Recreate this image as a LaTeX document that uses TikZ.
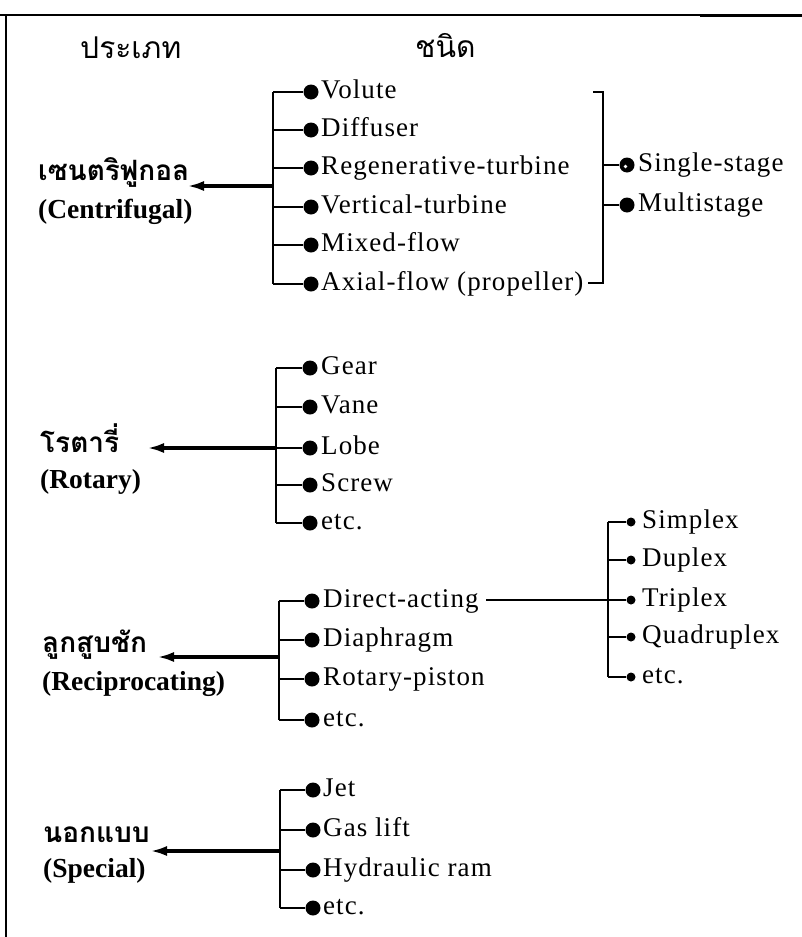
\documentclass[tikz,border=0pt]{standalone}
\usepackage{fontspec}
\setmainfont{Liberation Serif}
\newfontfamily\thaifont[Script=Thai]{Loma}
\newfontfamily\itemfont[LetterSpace=4]{Liberation Serif}
\usetikzlibrary{arrows.meta}
\tikzset{
  dot/.style={circle, fill=black, inner sep=0pt, minimum size=15pt},
  sdot/.style={circle, fill=black, inner sep=0pt, minimum size=9pt},
  item/.style={anchor=base west, inner sep=0pt, font={\itemfont\fontsize{27}{32}\selectfont}},
  thlab/.style={anchor=base west, inner sep=0pt, font={\thaifont\bfseries\fontsize{28}{32}\selectfont}},
  enlab/.style={anchor=base west, inner sep=0pt, font={\bfseries\fontsize{27.5}{32}\selectfont}},
  head/.style={anchor=base west, inner sep=0pt, font={\thaifont\fontsize{30}{34}\selectfont}},
  bus/.style={line width=2.6pt},
  branch/.style={line width=1.8pt},
  thin/.style={line width=1.6pt},
  arr/.style={line width=3.5pt, -{Latex[length=17pt,width=10pt]}},
}
\begin{document}
\begin{tikzpicture}[x=1pt,y=-1pt]
\useasboundingbox (0,0) rectangle (802,937);
% frame
\coordinate (f1) at (0,15);
\coordinate (f2) at (802,15);
\coordinate (f3) at (6,15);
\coordinate (f4) at (6,937);
\coordinate (f5) at (700,15);
\draw[line width=2pt] (f1) -- (f2);
\draw[line width=3pt] (f5) -- (f2);
\draw[line width=2pt] (f3) -- (f4);
% headings
\node[head] (h1) at (80,58) {ประเภท};
\node[head] (h2) at (415,57) {ชนิด};

% ---------- Centrifugal ----------
\node[thlab] (cth) at (38,180) {เซนตริฟูกอล};
\node[enlab] (cen) at (38,218) {(Centrifugal)};
\foreach \i/\y/\t in {1/92/Volute, 2/130/Diffuser, 3/168/Regenerative-turbine, 4/207/Vertical-turbine, 5/245/Mixed-flow, 6/284/{Axial-flow (propeller)}} {
  \node[dot] (c\i) at (311,\y) {};
  \node[item] (c\i t) at (321,\y+6) {\t};
  \coordinate (cb\i) at (273,\y);
  \draw[branch] (cb\i) -- (c\i);
}
\draw[bus] (cb1) -- (cb6);
\coordinate (cas) at (273,186);
\coordinate (cat) at (187,186);
\draw[arr] (cas) -- (cat);
% right bracket
\coordinate (rbt) at (593,92);
\coordinate (rb1) at (603,92);
\coordinate (rb2) at (603,283);
\coordinate (rbb) at (588,283);
\draw[branch] (rbt) -- (rb1) -- (rb2) -- (rbb);
\foreach \i/\y/\t in {1/165/Single-stage, 2/205/Multistage} {
  \node[dot] (m\i) at (627,\y) {};
  \node[item] (m\i t) at (638,\y+6) {\t};
  \coordinate (mb\i) at (603,\y);
  \draw[branch] (mb\i) -- (m\i);
}
\fill[white] (m1) ++(-1.5,1.5) circle (1.8pt);

% ---------- Rotary ----------
\node[thlab] (rth) at (40,452) {โรตารี่};
\node[enlab] (ren) at (40,488) {(Rotary)};
\foreach \i/\y/\t in {1/368/Gear, 2/407/Vane, 3/448/Lobe, 4/485/Screw, 5/523/etc.} {
  \node[dot] (r\i) at (310,\y) {};
  \node[item] (r\i t) at (321,\y+6) {\t};
  \coordinate (rb\i) at (276,\y);
  \draw[branch] (rb\i) -- (r\i);
}
\draw[bus] (rb1) -- (rb5);
\coordinate (ras) at (276,448);
\coordinate (rat) at (147,448);
\draw[arr] (ras) -- (rat);

% ---------- Reciprocating ----------
\node[thlab] (pth) at (42,652) {ลูกสูบชัก};
\node[enlab] (pen) at (42,690) {(Reciprocating)};
\foreach \i/\y/\t in {1/601/Direct-acting, 2/640/Diaphragm, 3/679/Rotary-piston, 4/720/etc.} {
  \node[dot] (p\i) at (312,\y) {};
  \node[item] (p\i t) at (323,\y+6) {\t};
  \coordinate (pb\i) at (279,\y);
  \draw[branch] (pb\i) -- (p\i);
}
\draw[bus] (pb1) -- (pb4);
\coordinate (pas) at (279,657);
\coordinate (pat) at (157,657);
\draw[arr] (pas) -- (pat);
% sub list
\foreach \i/\y/\t in {1/522/Simplex, 2/560/Duplex, 3/600/Triplex, 4/637/Quadruplex, 5/677/etc.} {
  \node[sdot] (s\i) at (631,\y) {};
  \node[item] (s\i t) at (642,\y+6) {\t};
  \coordinate (sb\i) at (608,\y);
  \draw[thin] (sb\i) -- (s\i);
}
\draw[thin] (sb1) -- (sb5);
\coordinate (dax) at (486,600);
\draw[thin] (dax) -- (s3);

% ---------- Special ----------
\node[thlab] (sth) at (43,842) {นอกแบบ};
\node[enlab] (sen) at (43,877) {(Special)};
\foreach \i/\y/\t in {1/790/Jet, 2/830/Gas lift, 3/870/Hydraulic ram, 4/908/etc.} {
  \node[dot] (x\i) at (313,\y) {};
  \node[item] (x\i t) at (323,\y+6) {\t};
  \coordinate (xb\i) at (280,\y);
  \draw[branch] (xb\i) -- (x\i);
}
\draw[bus] (xb1) -- (xb4);
\coordinate (xas) at (280,851);
\coordinate (xat) at (150,851);
\draw[arr] (xas) -- (xat);
\end{tikzpicture}
\end{document}
